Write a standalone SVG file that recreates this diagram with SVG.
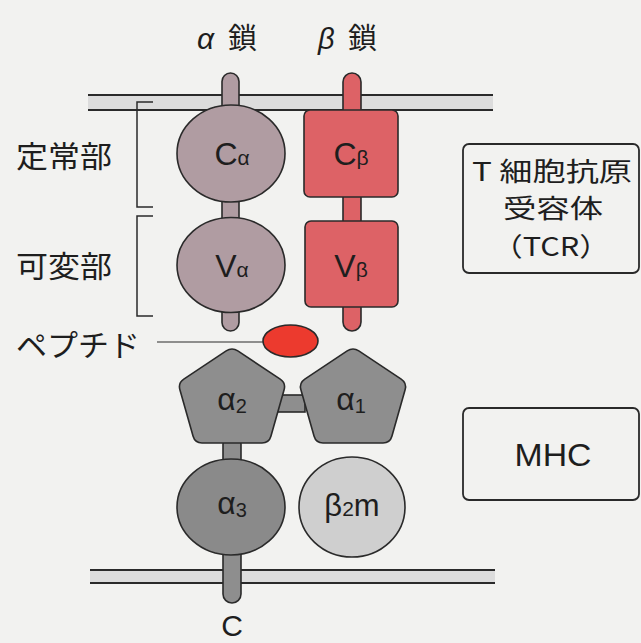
<svg xmlns="http://www.w3.org/2000/svg" width="641" height="643" viewBox="0 0 641 643">
<defs>
<style>
.ol{stroke:#2a2a2a;stroke-width:1.6}
.a{fill:#b09ca2}
.b{fill:#dd6266}
.g{fill:#8e8e8e}
.g3{fill:#8a8a8a}
.lg{fill:#cfcfcf}
.mem{fill:#dcdcdc}
.ml{stroke:#2a2a2a;stroke-width:2.2}
.t{font-family:"Liberation Sans","Noto Sans CJK JP",sans-serif;fill:#1e1e1e}
.j{font-family:"Noto Sans CJK JP","Liberation Sans",sans-serif;fill:#1e1e1e}
.box{fill:none;stroke:#2a2a2a;stroke-width:1.8}
</style>
<path id="pent" d="M237.8,350.9 L280.2,379.1 Q286,383 284.1,389.7 L270.9,436.3 Q269,443 262,443 L202,443 Q195,443 193.1,436.3 L179.9,389.7 Q178,383 183.8,379.1 L226.2,350.9 Q232,347 237.8,350.9 Z"/>
</defs>
<rect width="641" height="643" fill="#f2f2f0"/>

<g id="membrane-top">
<rect class="mem" x="88" y="95" width="405" height="15"/>
<line class="ml" x1="88" y1="95" x2="493" y2="95"/>
<line class="ml" x1="88" y1="110" x2="493" y2="110"/>
</g>
<g id="membrane-bottom">
<rect class="mem" x="90" y="570" width="405" height="13"/>
<line class="ml" x1="90" y1="570" x2="495" y2="570"/>
<line class="ml" x1="90" y1="583" x2="495" y2="583"/>
</g>

<g id="connectors">
<rect class="a ol" x="222" y="73" width="17" height="258" rx="8.5"/>
<rect class="b ol" x="343" y="73" width="18" height="258" rx="9"/>
<rect class="g ol" x="223" y="435" width="18" height="168" rx="9"/>
<rect class="g ol" x="278" y="395" width="27" height="17"/>
<line x1="157" y1="342" x2="282" y2="342" stroke="#2a2a2a" stroke-width="1.2"/>
</g>

<g id="labels-chain">
<text class="t" x="197" y="49" font-size="30" font-style="italic">α</text>
<text class="j" x="228" y="49" font-size="29">鎖</text>
<text class="t" x="318" y="49" font-size="29" font-style="italic">β</text>
<text class="j" x="348" y="49" font-size="29">鎖</text>
</g>

<g id="brackets" fill="none" stroke="#2a2a2a" stroke-width="1.5">
<path d="M153,102 H137 V207 H153"/>
<path d="M153,216 H137 V316 H153"/>
</g>
<g id="label-constant"><text class="j" x="16" y="167" font-size="30" textLength="96" lengthAdjust="spacingAndGlyphs">定常部</text></g>
<g id="label-variable"><text class="j" x="16" y="277" font-size="30" textLength="96" lengthAdjust="spacingAndGlyphs">可変部</text></g>

<g id="C-alpha">
<ellipse class="a ol" cx="231" cy="153.5" rx="54" ry="48.5"/>
<text class="t" x="232" y="165" font-size="32" text-anchor="middle">C<tspan font-size="21">α</tspan></text>
</g>
<g id="V-alpha">
<ellipse class="a ol" cx="231" cy="265" rx="54" ry="47.5"/>
<text class="t" x="232" y="277" font-size="32" text-anchor="middle">V<tspan font-size="21">α</tspan></text>
</g>
<g id="C-beta">
<rect class="b ol" x="304" y="110" width="94" height="87" rx="6"/>
<text class="t" x="351" y="165" font-size="32" text-anchor="middle">C<tspan font-size="21">β</tspan></text>
</g>
<g id="V-beta">
<rect class="b ol" x="305" y="221" width="93" height="86" rx="6"/>
<text class="t" x="351" y="277" font-size="32" text-anchor="middle">V<tspan font-size="21">β</tspan></text>
</g>

<g id="peptide">
<ellipse cx="290.5" cy="341" rx="27.5" ry="16" fill="#ec3a2e" class="ol"/>
</g>
<g id="label-peptide"><text class="j" x="16" y="356" font-size="30" textLength="124" lengthAdjust="spacingAndGlyphs">ペプチド</text></g>

<g id="alpha2">
<use href="#pent" class="g ol"/>
<text class="t" x="232" y="410" font-size="32" text-anchor="middle">α<tspan font-size="20" dy="3">2</tspan></text>
</g>
<g id="alpha1">
<use href="#pent" class="g ol" transform="translate(121,0)"/>
<text class="t" x="351" y="410" font-size="32" text-anchor="middle">α<tspan font-size="20" dy="3">1</tspan></text>
</g>
<g id="alpha3">
<ellipse class="g3 ol" cx="231" cy="507" rx="54" ry="48"/>
<text class="t" x="232" y="514" font-size="32" text-anchor="middle">α<tspan font-size="20" dy="3">3</tspan></text>
</g>
<g id="beta2m">
<ellipse class="lg ol" cx="352" cy="507" rx="53" ry="50"/>
<text class="t" x="352" y="516" font-size="31" text-anchor="middle">β<tspan font-size="21">2</tspan>m</text>
</g>

<g id="label-C"><text class="t" x="232" y="636" font-size="30" text-anchor="middle">C</text></g>

<g id="TCR">
<rect class="box" x="463" y="144" width="176" height="129" rx="6"/>
<text class="j" x="552" y="181" font-size="26" text-anchor="middle" textLength="160" lengthAdjust="spacingAndGlyphs">T 細胞抗原</text>
<text class="j" x="553" y="218" font-size="26" text-anchor="middle" textLength="100" lengthAdjust="spacingAndGlyphs">受容体</text>
<text class="j" x="551" y="256" font-size="26" text-anchor="middle" textLength="118" lengthAdjust="spacingAndGlyphs">（TCR）</text>
</g>
<g id="MHC">
<rect class="box" x="463" y="408" width="176" height="92" rx="6"/>
<text class="t" x="553" y="466" font-size="31" text-anchor="middle" textLength="77" lengthAdjust="spacingAndGlyphs">MHC</text>
</g>
</svg>
